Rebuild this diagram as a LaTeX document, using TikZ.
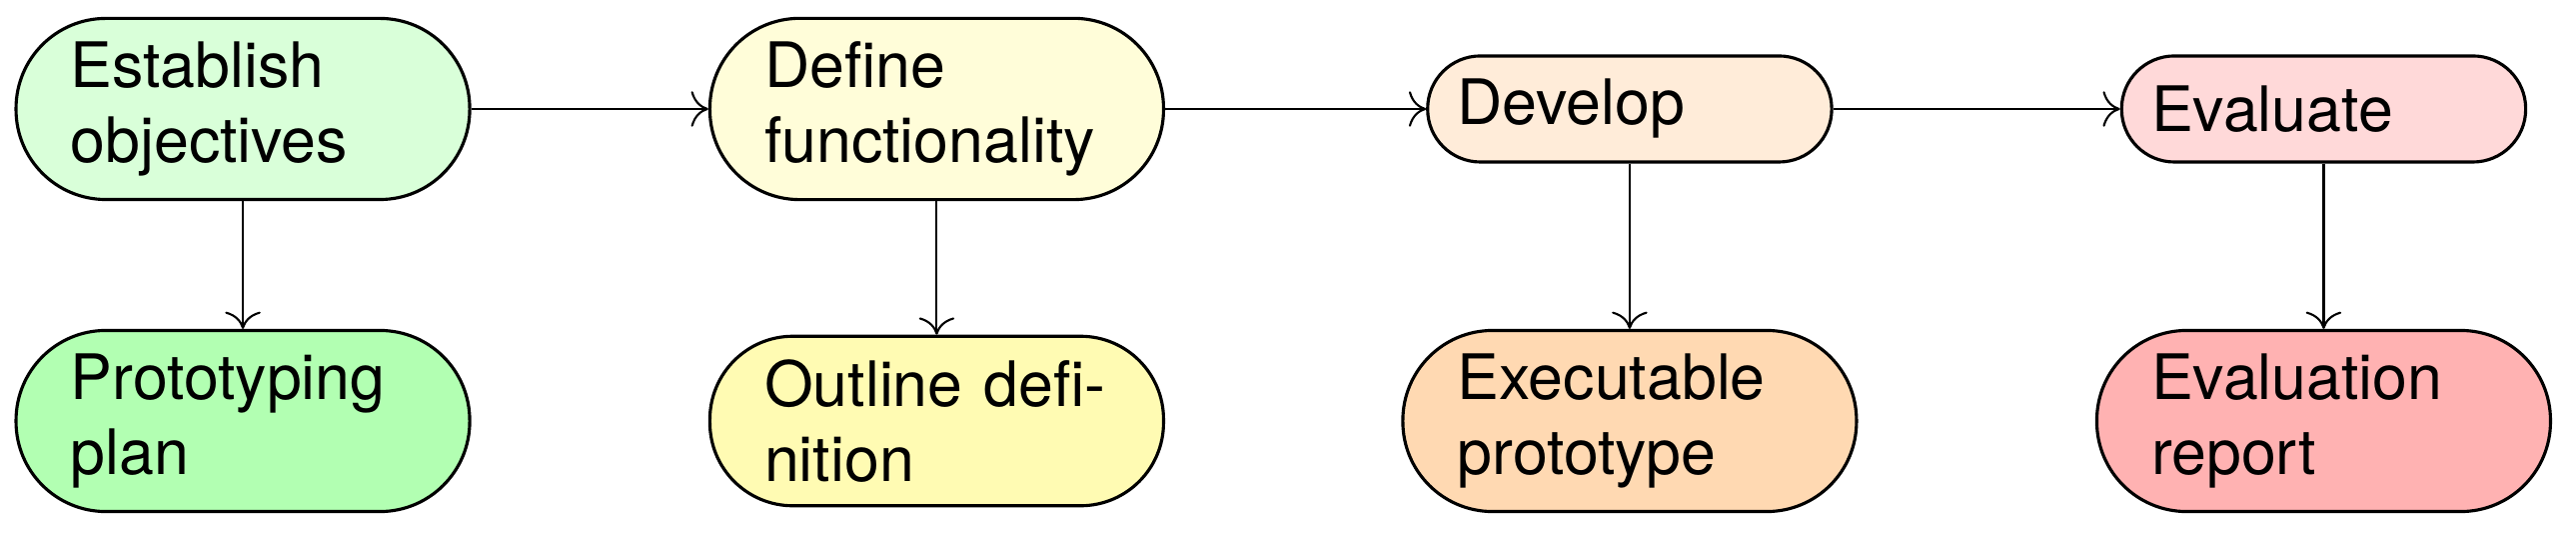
\documentclass[tikz,border=0pt]{standalone}
\usepackage{fontspec}
\setmainfont{TeX Gyre Heros}
\usetikzlibrary{arrows.meta}

\tikzset{
  phase/.style={draw,semithick,rounded corners=17.2pt,text width=66pt,align=left,
    inner xsep=10.45pt,inner ysep=4.4pt,font=\fontsize{12pt}{14.5pt}\selectfont},
  shortphase/.style={phase,inner xsep=5.7pt,minimum height=20.3pt,rounded corners=10.1pt},
}

\begin{document}
\begin{tikzpicture}[>={To[length=3.3pt,width=6.8pt]}]
\useasboundingbox (0,0) rectangle (17.342,3.666);

\node [phase,fill=green!15] (obj) at (1.635,2.933) {Establish\\objectives};
\node [phase,fill=yellow!15] (func) at (6.306,2.933) {Define\\functionality};
\node [shortphase,fill=orange!15] (dev) at (10.971,2.933) {Develop};
\node [shortphase,fill=red!15] (eval) at (15.643,2.933) {Evaluate};

\node [phase,fill=green!30] (plan) at (1.635,0.834) {Prototyping\\plan};
\node [phase,fill=yellow!30,rounded corners=15.9pt] (outl) at (6.306,0.834) {Outline~defi-\\nition};
\node [phase,fill=orange!30] (exec) at (10.971,0.834) {Executable\\prototype};
\node [phase,fill=red!30] (rep) at (15.643,0.834) {Evaluation\\report};

\draw [->] (obj) -- (func);
\draw [->] (func) -- (dev);
\draw [->] (dev) -- (eval);

\draw [->] (obj) -- (plan);
\draw [->] (func) -- (outl);
\draw [->] (dev) -- (exec);
\draw [->] (eval) -- (rep);
\end{tikzpicture}
\end{document}
